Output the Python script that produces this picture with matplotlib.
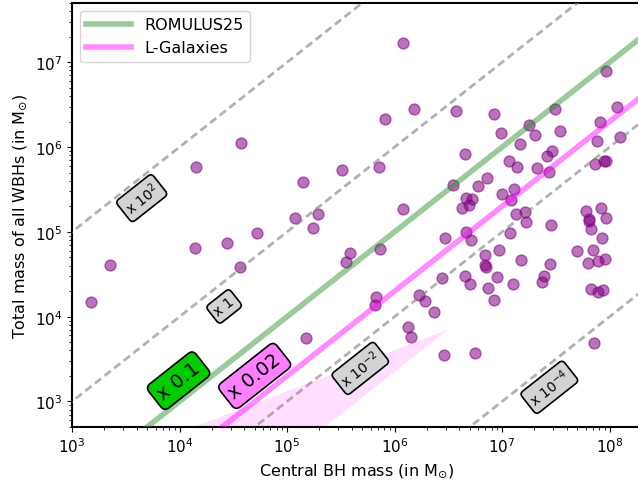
import numpy as np
import matplotlib
matplotlib.use("Agg")
import matplotlib.pyplot as plt

# ---- data -------------------------------------------------------------
central_bh = [1.5e3, 2.25e3, 1.39e4, 1.42e4, 2.75e4, 3.66e4, 3.7e4, 5.2e4, 1.19e5, 1.42e5,
              1.76e5, 1.95e5, 3.23e5, 1.5e5, 3.54e5, 3.85e5, 7.2e5, 7.3e5, 6.6e5, 6.7e5,
              8.2e5, 1.21e6, 1.19e6, 1.5e6, 1.34e6, 1.43e6, 1.69e6, 1.92e6, 2.33e6, 2.77e6,
              2.92e6, 2.88e6, 3.52e6, 3.73e6, 4.53e6, 4.63e6, 5.26e6, 4.2e6, 4.88e6, 4.63e6,
              5.12e6, 4.56e6, 5.01e6, 5.65e6, 5.92e6, 7.24e6, 7.0e6, 6.9e6, 7.1e6, 7.46e6,
              8.48e6, 8.93e6, 8.34e6, 9.44e6, 9.84e6, 9.93e6, 1.15e7, 1.18e7, 1.21e7, 1.25e7,
              1.3e7, 1.37e7, 1.46e7, 1.51e7, 1.62e7, 1.34e7, 1.67e7, 1.76e7, 2.04e7, 2.1e7,
              2.33e7, 2.43e7, 2.59e7, 2.71e7, 2.81e7, 2.89e7, 2.87e7, 3.11e7, 3.43e7, 5.01e7,
              6.03e7, 6.41e7, 6.38e7, 6.65e7, 6.24e7, 6.73e7, 7.06e7, 7.23e7, 7.36e7, 7.57e7,
              7.87e7, 7.87e7, 8.13e7, 8.3e7, 8.43e7, 8.75e7, 8.95e7, 9.32e7, 9.08e7, 9.32e7,
              9.27e7, 1.18e8, 1.26e8]
wbh_mass = [1.5e4, 4.1e4, 6.4e4, 5.9e5, 7.4e4, 3.85e4, 1.12e6, 9.8e4, 1.45e5, 3.85e5,
            1.1e5, 1.61e5, 5.33e5, 5.6e3, 4.46e4, 5.58e4, 5.9e5, 6.2e4, 1.36e4, 1.71e4,
            2.16e6, 1.68e7, 1.88e5, 2.81e6, 7.6e3, 5.74e3, 1.8e4, 1.52e4, 1.14e4, 2.89e4,
            8.55e4, 3.53e3, 3.56e5, 2.65e6, 8.2e5, 2.48e5, 2.47e5, 1.89e5, 2.08e5, 1.01e5,
            7.95e4, 2.99e4, 2.46e4, 3.72e3, 3.52e5, 4.31e5, 5.33e4, 4.04e4, 3.9e4, 2.16e4,
            1.56e4, 2.94e4, 2.43e6, 6.05e4, 1.48e6, 2.82e5, 6.84e5, 9.8e4, 2.37e5, 2.4e4,
            3.22e5, 5.9e5, 1.1e6, 4.66e4, 1.73e5, 1.64e5, 1.3e5, 1.82e6, 1.4e6, 5.69e5,
            2.56e4, 3.02e4, 7.8e5, 5.06e5, 4.15e4, 8.93e5, 1.22e5, 2.8e6, 1.53e6, 5.93e4,
            1.76e5, 1.43e5, 1.34e5, 1.09e5, 4.26e4, 2.12e4, 6.11e4, 4.91e3, 6.28e5, 1.19e6,
            4.53e4, 1.98e4, 1.98e6, 1.93e5, 8.43e4, 2.06e4, 6.93e5, 6.84e5, 4.84e4, 1.46e5,
            7.8e6, 2.96e6, 1.3e6]

ratio_guides = [1e2, 1.0, 1e-2, 1e-4]
ratio_labels = [r"x $10^{2}$", r"x 1", r"x $10^{-2}$", r"x $10^{-4}$"]
romulus_ratio = 0.1
lgal_ratio = 0.02

shade_x = [2e3, 3.15e6]
shade_lo = [4.6, 7.2e3]
shade_hi = [2.0e2, 7.2e3]

x_line = np.array([1e2, 1e9])

# ---- figure ----------------------------------------------------------
fig = plt.figure(figsize=(6.38, 4.85), dpi=100)
ax = fig.add_axes([72/638, 57/485, 570/638, 424/485])
ax.set_xscale("log")
ax.set_yscale("log")

ax.fill_between(shade_x, shade_lo, shade_hi, color="magenta", alpha=0.13, lw=0, zorder=1)

ax.scatter(central_bh, wbh_mass, s=62, c="purple", alpha=0.55, zorder=2)

for r in ratio_guides:
    ax.plot(x_line, r * x_line, ls=(0, (2.8, 1.6)), color="gray", alpha=0.6, lw=2, zorder=3)

ax.plot(x_line, romulus_ratio * x_line, color="forestgreen", alpha=0.45, lw=4,
        zorder=4, label="ROMULUS25")
ax.plot(x_line, lgal_ratio * x_line, color="magenta", alpha=0.45, lw=4,
        zorder=4, label="L-Galaxies")

ang = 38.3
label_pos = [(4.45e3, 2.5e5), (2.6e4, 1.32e4), (4.8e5, 2.46e3), (2.75e7, 1.47e3)]
for (lx, ly), txt in zip(label_pos, ratio_labels):
    ax.text(lx, ly, txt, rotation=ang, ha="center", va="center", fontsize=10, zorder=6,
            bbox=dict(boxstyle="round,pad=0.3", fc="lightgray", ec="black", lw=1.2))

ax.text(9.8e3, 1.76e3, "x 0.1", rotation=ang, ha="center", va="center", fontsize=14,
        zorder=6, bbox=dict(boxstyle="round,pad=0.3", fc="#00cc00", ec="black", lw=1.2))
ax.text(5.0e4, 2.0e3, "x 0.02", rotation=ang, ha="center", va="center", fontsize=14,
        zorder=6, bbox=dict(boxstyle="round,pad=0.3", fc="#ff80ff", ec="black", lw=1.2))

ax.set_xlim(1e3, 2e8)
ax.set_ylim(5e2, 5e7)
ax.set_xlabel(r"Central BH mass (in M$_{\odot}$)", fontsize=11.5)
ax.set_ylabel(r"Total mass of all WBHs (in M$_{\odot}$)", fontsize=11.5)
ax.tick_params(labelsize=11)
for s in ax.spines.values():
    s.set_linewidth(1.5)

ax.legend(loc="upper left", fontsize=11.5, handlelength=2.8)

fig.savefig("out.png", dpi=100)
